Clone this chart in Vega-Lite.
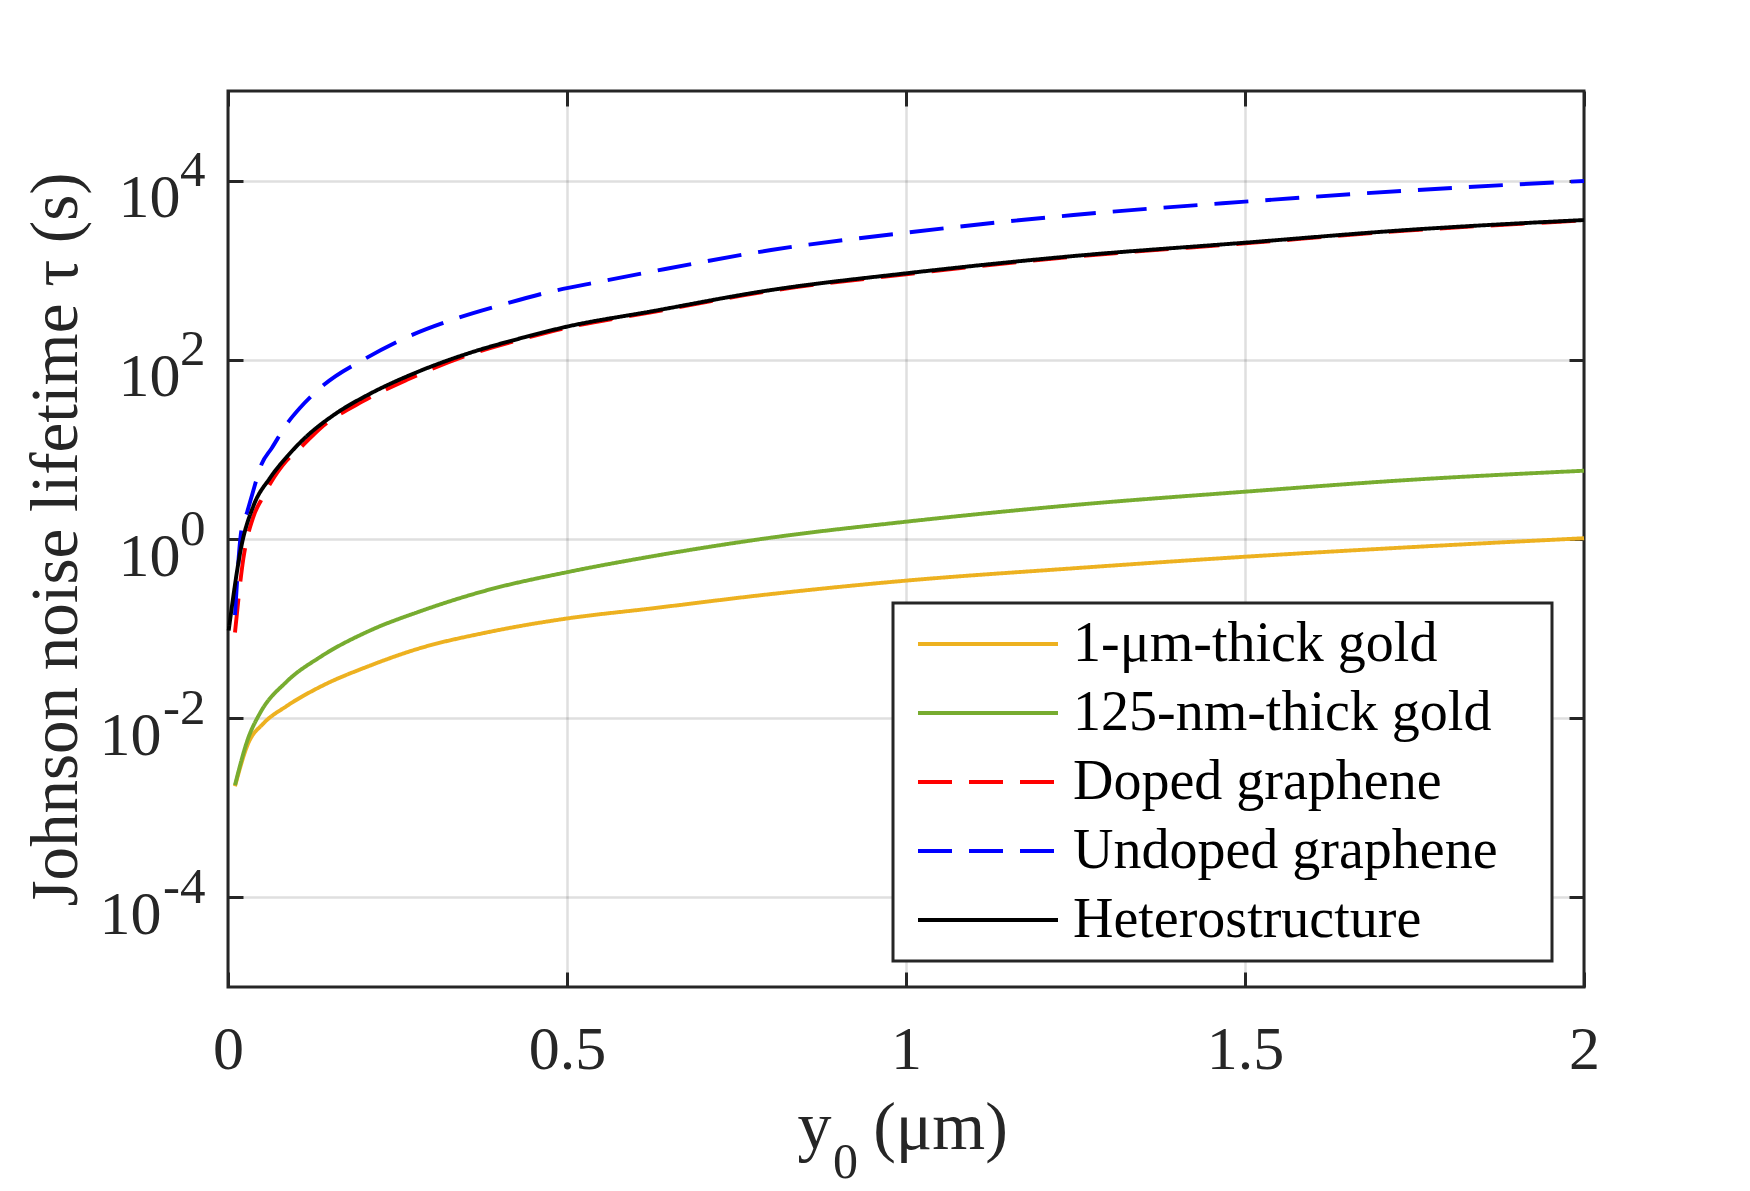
{
"$schema": "https://vega.github.io/schema/vega-lite/v6.json",
"width": 1356, "height": 896,
"autosize": {"type": "none"},
"padding": {"left": 228, "top": 91, "right": 166, "bottom": 204},
"background": "white",
"data": {"values": [
{"s":"1-μm-thick gold","x":0.0103,"tau":0.00174},{"s":"1-μm-thick gold","x":0.03,"tau":0.00528},{"s":"1-μm-thick gold","x":0.052,"tau":0.00869},{"s":"1-μm-thick gold","x":0.0865,"tau":0.01365},{"s":"1-μm-thick gold","x":0.136,"tau":0.0224},{"s":"1-μm-thick gold","x":0.209,"tau":0.0385},{"s":"1-μm-thick gold","x":0.283,"tau":0.0604},{"s":"1-μm-thick gold","x":0.381,"tau":0.0904},{"s":"1-μm-thick gold","x":0.501,"tau":0.13},{"s":"1-μm-thick gold","x":0.622,"tau":0.167},{"s":"1-μm-thick gold","x":0.801,"tau":0.243},{"s":"1-μm-thick gold","x":1.0,"tau":0.343},{"s":"1-μm-thick gold","x":1.247,"tau":0.471},{"s":"1-μm-thick gold","x":1.5,"tau":0.634},{"s":"1-μm-thick gold","x":1.739,"tau":0.807},{"s":"1-μm-thick gold","x":2.0,"tau":1.02},
{"s":"125-nm-thick gold","x":0.0103,"tau":0.00179},{"s":"125-nm-thick gold","x":0.03,"tau":0.00605},{"s":"125-nm-thick gold","x":0.0472,"tau":0.01138},{"s":"125-nm-thick gold","x":0.0865,"tau":0.0256},{"s":"125-nm-thick gold","x":0.136,"tau":0.0482},{"s":"125-nm-thick gold","x":0.209,"tau":0.0948},{"s":"125-nm-thick gold","x":0.283,"tau":0.1556},{"s":"125-nm-thick gold","x":0.381,"tau":0.2667},{"s":"125-nm-thick gold","x":0.501,"tau":0.4276},{"s":"125-nm-thick gold","x":0.622,"tau":0.634},{"s":"125-nm-thick gold","x":0.801,"tau":1.035},{"s":"125-nm-thick gold","x":1.0,"tau":1.56},{"s":"125-nm-thick gold","x":1.247,"tau":2.393},{"s":"125-nm-thick gold","x":1.5,"tau":3.373},{"s":"125-nm-thick gold","x":1.739,"tau":4.55},{"s":"125-nm-thick gold","x":2.0,"tau":5.78},
{"s":"Doped graphene","x":0.0103,"tau":0.0904},{"s":"Doped graphene","x":0.0226,"tau":0.601},{"s":"Doped graphene","x":0.0374,"tau":1.77},{"s":"Doped graphene","x":0.0497,"tau":2.79},{"s":"Doped graphene","x":0.0865,"tau":7.52},{"s":"Doped graphene","x":0.106,"tau":10.3},{"s":"Doped graphene","x":0.138,"tau":17.7},{"s":"Doped graphene","x":0.2,"tau":34.8},{"s":"Doped graphene","x":0.264,"tau":59.8},{"s":"Doped graphene","x":0.357,"tau":114.8},{"s":"Doped graphene","x":0.431,"tau":167.9},{"s":"Doped graphene","x":0.501,"tau":229},{"s":"Doped graphene","x":0.622,"tau":336.5},{"s":"Doped graphene","x":0.801,"tau":589},{"s":"Doped graphene","x":1.0,"tau":901.6},{"s":"Doped graphene","x":1.247,"tau":1413},{"s":"Doped graphene","x":1.5,"tau":1995},{"s":"Doped graphene","x":1.739,"tau":2767},{"s":"Doped graphene","x":2.0,"tau":3589},
{"s":"Undoped graphene","x":0.0103,"tau":0.141},{"s":"Undoped graphene","x":0.0197,"tau":1.24},{"s":"Undoped graphene","x":0.0285,"tau":2.03},{"s":"Undoped graphene","x":0.0359,"tau":3.18},{"s":"Undoped graphene","x":0.0496,"tau":6.87},{"s":"Undoped graphene","x":0.0644,"tau":10.3},{"s":"Undoped graphene","x":0.089,"tau":20.3},{"s":"Undoped graphene","x":0.106,"tau":29.0},{"s":"Undoped graphene","x":0.141,"tau":52.2},{"s":"Undoped graphene","x":0.202,"tau":102.6},{"s":"Undoped graphene","x":0.268,"tau":184.5},{"s":"Undoped graphene","x":0.337,"tau":289.7},{"s":"Undoped graphene","x":0.406,"tau":415},{"s":"Undoped graphene","x":0.477,"tau":579},{"s":"Undoped graphene","x":0.549,"tau":746},{"s":"Undoped graphene","x":0.622,"tau":955},{"s":"Undoped graphene","x":0.801,"tau":1679},{"s":"Undoped graphene","x":1.0,"tau":2624},{"s":"Undoped graphene","x":1.247,"tau":4130},{"s":"Undoped graphene","x":1.5,"tau":5821},{"s":"Undoped graphene","x":1.739,"tau":7727},{"s":"Undoped graphene","x":2.0,"tau":9908},
{"s":"Heterostructure","x":0.001,"tau":0.0955},{"s":"Heterostructure","x":0.0202,"tau":0.863},{"s":"Heterostructure","x":0.0374,"tau":2.33},{"s":"Heterostructure","x":0.0619,"tau":4.79},{"s":"Heterostructure","x":0.0865,"tau":8.22},{"s":"Heterostructure","x":0.111,"tau":12.9},{"s":"Heterostructure","x":0.16,"tau":25.4},{"s":"Heterostructure","x":0.209,"tau":41.6},{"s":"Heterostructure","x":0.283,"tau":75.0},{"s":"Heterostructure","x":0.357,"tau":119.7},{"s":"Heterostructure","x":0.431,"tau":173.4},{"s":"Heterostructure","x":0.501,"tau":235.5},{"s":"Heterostructure","x":0.622,"tau":344.4},{"s":"Heterostructure","x":0.801,"tau":601},{"s":"Heterostructure","x":1.0,"tau":922.6},{"s":"Heterostructure","x":1.247,"tau":1439},{"s":"Heterostructure","x":1.5,"tau":2028},{"s":"Heterostructure","x":1.739,"tau":2812},{"s":"Heterostructure","x":2.0,"tau":3631}
]},
"resolve": {"axis": {"x": "independent", "y": "independent"}},
"layer": [
{"mark": {"type": "line", "strokeWidth": 3.9, "interpolate": "monotone"},
 "encoding": {
  "x": {"field": "x", "type": "quantitative", "scale": {"domain": [0, 2], "nice": false, "zero": false},
        "axis": {"orient": "bottom", "values": [0, 0.5, 1, 1.5, 2], "format": "~g", "ticks": false, "labelFontSize": 62, "labelPadding": 81, "labelBaseline": "alphabetic", "labelFlush": false, "labelOverlap": false, "grid": true, "title": "y", "titleFontSize": 68, "titleX": 586, "titleY": 161, "titleBaseline": "alphabetic", "titleAlign": "center"}},
  "y": {"field": "tau", "type": "quantitative", "scale": {"type": "log", "domain": [0.00001, 100000], "nice": false},
        "axis": {"orient": "left", "values": [0.0001, 0.01, 1, 100, 10000], "ticks": false, "labelFontSize": 62, "labelPadding": 48, "labelAlign": "right", "labelBaseline": "alphabetic", "labelOffset": 36, "labelExpr": "datum.value < 0.5 ? '' : '10'", "labelOverlap": false, "labelFlush": false, "grid": true, "title": "Johnson noise lifetime τ (s)", "titleFontSize": 67, "titleAngle": -90, "titleX": -172, "titleY": 448, "titleAlign": "center", "titleBaseline": "middle"}},
  "color": {"field": "s", "type": "nominal", "scale": {"domain": ["1-μm-thick gold", "125-nm-thick gold", "Doped graphene", "Undoped graphene", "Heterostructure"], "range": ["#EDB120", "#77AC30", "#FF0000", "#0000FF", "#000000"]}, "legend": {"title": "M"}},
  "strokeDash": {"field": "s", "type": "nominal", "scale": {"domain": ["1-μm-thick gold", "125-nm-thick gold", "Doped graphene", "Undoped graphene", "Heterostructure"], "range": [[1, 0], [1, 0], [34, 17], [34, 17], [1, 0]]}, "legend": {"title": "M"}}
 }},
{"mark": {"type": "point", "opacity": 0},
 "encoding": {
  "x": {"field": "x", "type": "quantitative", "scale": {"domain": [0, 2], "nice": false, "zero": false},
        "axis": {"orient": "top", "values": [0, 0.5, 1, 1.5, 2], "labels": false, "tickSize": -15, "grid": false, "title": null}},
  "y": {"field": "tau", "type": "quantitative", "scale": {"type": "log", "domain": [0.00001, 100000], "nice": false},
        "axis": {"orient": "right", "values": [0.0001, 0.01, 1, 100, 10000], "labels": false, "tickSize": -15, "grid": false, "title": null}}
 }},
{"mark": {"type": "point", "opacity": 0},
 "encoding": {
  "x": {"field": "x", "type": "quantitative", "scale": {"domain": [0, 2], "nice": false, "zero": false},
        "axis": {"orient": "bottom", "values": [0, 0.5, 1, 1.5, 2], "labels": false, "tickSize": -15, "grid": false, "title": "0", "titleFontSize": 50, "titleX": 617, "titleY": 190, "titleBaseline": "alphabetic", "titleAlign": "center"}},
  "y": {"field": "tau", "type": "quantitative", "scale": {"type": "log", "domain": [0.00001, 100000], "nice": false},
        "axis": {"orient": "left", "values": [0.0001, 0.01, 1, 100, 10000], "ticks": false, "grid": false, "title": null, "labelFontSize": 51, "labelPadding": 23, "labelAlign": "right", "labelBaseline": "alphabetic", "labelOffset": 5, "labelOverlap": false, "labelFlush": false, "labelExpr": "datum.value < 0.001 ? '-4' : datum.value < 0.1 ? '-2' : datum.value < 10 ? '0' : datum.value < 1000 ? '2' : '4'"}}
 }},
{"mark": {"type": "point", "opacity": 0},
 "encoding": {
  "x": {"field": "x", "type": "quantitative", "scale": {"domain": [0, 2], "nice": false, "zero": false},
        "axis": {"orient": "bottom", "values": [0, 0.5, 1, 1.5, 2], "labels": false, "ticks": false, "grid": false, "title": "(μm)", "titleFontSize": 68, "titleX": 712, "titleY": 161, "titleBaseline": "alphabetic", "titleAlign": "center"}},
  "y": {"field": "tau", "type": "quantitative", "scale": {"type": "log", "domain": [0.00001, 100000], "nice": false},
        "axis": {"orient": "left", "values": [0.0001, 0.01, 1, 100, 10000], "labels": false, "tickSize": -15, "grid": false, "title": null}}
 }},
{"mark": {"type": "point", "opacity": 0},
 "encoding": {
  "x": {"field": "x", "type": "quantitative", "scale": {"domain": [0, 2], "nice": false, "zero": false}, "axis": null},
  "y": {"field": "tau", "type": "quantitative", "scale": {"type": "log", "domain": [0.00001, 100000], "nice": false},
        "axis": {"orient": "left", "values": [0.0001, 0.01], "ticks": false, "grid": false, "title": null, "labelFontSize": 62, "labelPadding": 67, "labelAlign": "right", "labelBaseline": "alphabetic", "labelOffset": 36, "labelOverlap": false, "labelFlush": false, "labelExpr": "'10'"}}
 }}
],
"config": {
 "font": "Liberation Serif",
 "view": {"stroke": "#262626", "strokeWidth": 3},
 "axis": {"labelFont": "Liberation Serif", "titleFont": "Liberation Serif", "labelColor": "#262626", "titleColor": "#262626", "titleFontWeight": "normal", "domain": false, "tickColor": "#262626", "tickWidth": 3, "gridColor": "#262626", "gridOpacity": 0.15, "gridWidth": 2.5},
 "legend": {"orient": "none", "legendX": 665, "legendY": 512, "padding": 13, "strokeColor": "#262626", "strokeWidth": 3, "fillColor": "white", "symbolType": "M-5,0H5", "symbolSize": 784, "symbolStrokeWidth": 3.9, "symbolOffset": 54, "labelOffset": 57, "labelFont": "Liberation Serif", "labelFontSize": 56, "labelColor": "#000000", "labelLimit": 1000, "rowPadding": 13, "titleOrient": "right", "titleOpacity": 0, "titleFont": "Liberation Serif", "titleFontSize": 40, "titleFontWeight": "normal", "titlePadding": 5}
}
}
